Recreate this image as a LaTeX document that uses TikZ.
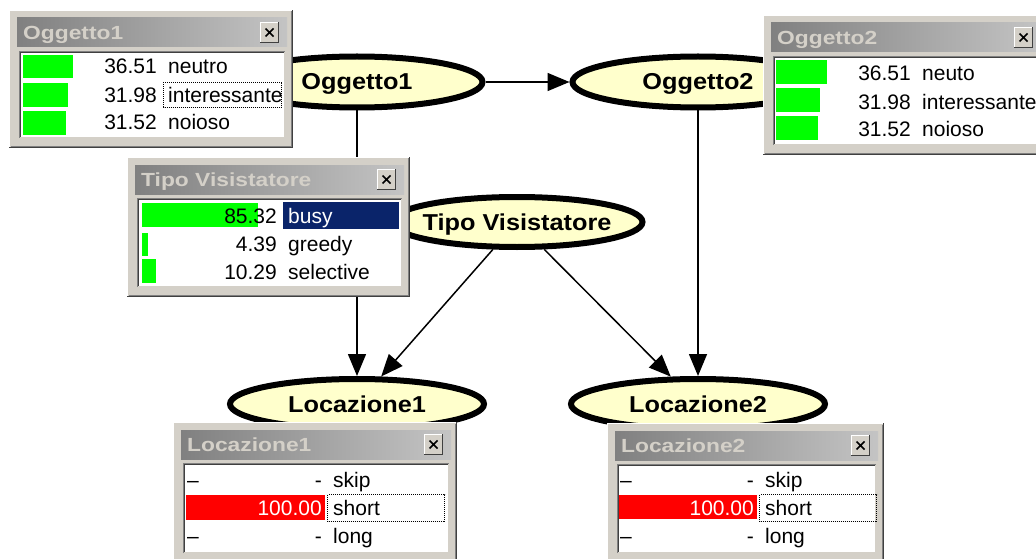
\documentclass[tikz,border=0pt]{standalone}
\usepackage{fontspec}
\setmainfont{Liberation Sans}
\newfontfamily\bnnodefont[FakeStretch=1.1]{Liberation Sans}
\newfontfamily\bntitlefont[FakeStretch=1.2]{Liberation Sans}
\usetikzlibrary{shapes.geometric,arrows.meta}

\definecolor{winface}{HTML}{D4D0C8}
\definecolor{winlight}{HTML}{FFFFFF}
\definecolor{windark}{HTML}{808080}
\definecolor{winshadow}{HTML}{404040}
\definecolor{tleft}{HTML}{808080}
\definecolor{tright}{HTML}{C4C4C4}
\definecolor{titlefg}{HTML}{D4D0C8}
\definecolor{nodefill}{HTML}{FFFFCC}
\definecolor{bargreen}{HTML}{00FF00}
\definecolor{barred}{HTML}{FF0000}
\definecolor{selnavy}{HTML}{0A246A}

\tikzset{
  bnnode/.style={ellipse, draw=black, line width=6pt, fill=nodefill,
    minimum width=251pt, minimum height=51pt, inner sep=0pt,
    text height=16pt, text depth=0pt,
    font=\bnnodefont\bfseries\fontsize{23}{23}\selectfont},
  conn/.style={line width=1.5pt, -{Triangle[length=22pt,width=18pt]}},
  celltext/.style={inner sep=0pt, font=\fontsize{21}{21}\selectfont},
  titletext/.style={inner sep=0pt, text=titlefg, text height=13.5pt, text depth=0pt,
    font=\bntitlefont\bfseries\fontsize{19}{19}\selectfont},
  focusbox/.style={line width=1pt, dash pattern=on 1pt off 1pt},
}

% Monitor window: #1 name, #2 #3 top-left corner, #4 #5 bottom-right corner, #6 title
\newcommand\bnwindow[6]{%
  \fill[winface] (#2,#3) rectangle (#4,#5);
  \draw[line width=1pt, winlight] (#2+0.5,#5-1) -- (#2+0.5,#3+0.5) -- (#4-1,#3+0.5);
  \draw[line width=1pt, winshadow] (#2,#5-0.5) -- (#4-0.5,#5-0.5) -- (#4-0.5,#3);
  \draw[line width=1pt, windark] (#2+1.5,#5-1.5) -- (#4-1.5,#5-1.5) -- (#4-1.5,#3+1.5);
  \shade[left color=tleft, right color=tright] (#2+8,#3+8) rectangle (#4-6,#3+37);
  \node[titletext, anchor=west] (#1t) at (#2+14,#3+22.5) {#6};
  \fill[winface] (#4-33,#3+12) rectangle (#4-14,#3+33);
  \draw[line width=1pt, winlight] (#4-32.5,#3+32.5) -- (#4-32.5,#3+12.5) -- (#4-14.5,#3+12.5);
  \draw[line width=1pt, winshadow] (#4-33,#3+32.5) -- (#4-14.5,#3+32.5) -- (#4-14.5,#3+12);
  \draw[line width=1.6pt] (#4-27.5,#3+18.5) -- (#4-19.5,#3+26.5)
                          (#4-27.5,#3+26.5) -- (#4-19.5,#3+18.5);
  \fill[white] (#2+10,#3+41) rectangle (#4-8,#5-10);
  \draw[line width=1pt, windark] (#2+10.5,#5-10) -- (#2+10.5,#3+41.5) -- (#4-8,#3+41.5);
  \draw[line width=1pt, winshadow] (#2+11.5,#5-11) -- (#2+11.5,#3+42.5) -- (#4-9,#3+42.5);
  \draw[line width=1pt, winface] (#2+11,#5-10.5) -- (#4-8.5,#5-10.5) -- (#4-8.5,#3+42);
}

\begin{document}
\begin{tikzpicture}[x=1pt,y=-1pt]
\useasboundingbox (0,0) rectangle (1036,559);
\clip (0,0) rectangle (1036,559);
\fill[white] (0,0) rectangle (1036,559);

% network nodes
\node[bnnode] (o1) at (357,82) {\makebox[0pt]{Oggetto1}};
\node[bnnode] (o2) at (698,82) {\makebox[0pt]{Oggetto2}};
\node[bnnode, minimum height=50pt] (tv) at (517,222) {\makebox[0pt]{Tipo Visistatore}};
\node[bnnode, minimum height=50pt, minimum width=254pt] (l1) at (357,404) {\makebox[0pt]{Locazione1}};
\node[bnnode, minimum height=50pt, minimum width=254pt] (l2) at (698,404) {\makebox[0pt]{Locazione2}};

% arcs
\draw[conn] (o1) -- (o2);
\draw[conn] (o1) -- (l1);
\draw[conn] (o2) -- (l2);
\draw[conn] (tv) -- (l1);
\draw[conn] (tv) -- (l2);

% Oggetto1 monitor
\bnwindow{w1}{9}{10}{293}{148}{Oggetto1}
\fill[bargreen] (23,55) rectangle (73,78);
\fill[bargreen] (23,83) rectangle (68,107);
\fill[bargreen] (23,111) rectangle (66,135);
\node[celltext, anchor=base east] (w1n1) at (157,74) {36.51};
\node[celltext, anchor=base west] (w1s1) at (168,74) {neutro};
\node[celltext, anchor=base east] (w1n2) at (157,102.5) {31.98};
\node[celltext, anchor=base west] (w1s2) at (168,102.5) {interessante};
\draw[focusbox] (163.5,82.5) rectangle (281.5,107.5);
\node[celltext, anchor=base east] (w1n3) at (157,130) {31.52};
\node[celltext, anchor=base west] (w1s3) at (168,130) {noioso};

% Oggetto2 monitor
\bnwindow{w2}{763}{15}{1047}{155}{Oggetto2}
\fill[bargreen] (776,60) rectangle (827,84);
\fill[bargreen] (776,88) rectangle (820,112);
\fill[bargreen] (776,116) rectangle (818,140);
\node[celltext, anchor=base east] (w2n1) at (911,81) {36.51};
\node[celltext, anchor=base west] (w2s1) at (922,81) {neuto};
\node[celltext, anchor=base east] (w2n2) at (911,109.5) {31.98};
\node[celltext, anchor=base west] (w2s2) at (922,109.5) {interessante};
\node[celltext, anchor=base east] (w2n3) at (911,137) {31.52};
\node[celltext, anchor=base west] (w2s3) at (922,137) {noioso};

% Tipo Visistatore monitor
\bnwindow{w3}{127}{157}{410}{297}{Tipo Visistatore}
\fill[bargreen] (142,203) rectangle (258,227);
\fill[bargreen] (142,233) rectangle (148,256);
\fill[bargreen] (142,259) rectangle (156,283);
\fill[selnavy] (283,202) rectangle (399,229);
\node[celltext, anchor=base east] (w3n1) at (277,223) {85.32};
\node[celltext, anchor=base west, text=white] (w3s1) at (288,223) {busy};
\node[celltext, anchor=base east] (w3n2) at (277,251.5) {4.39};
\node[celltext, anchor=base west] (w3s2) at (288,251.5) {greedy};
\node[celltext, anchor=base east] (w3n3) at (277,279.5) {10.29};
\node[celltext, anchor=base west] (w3s3) at (288,279.5) {selective};

% Locazione1 monitor
\bnwindow{w4}{173}{422}{457}{563}{Locazione1}
\fill[barred] (186,495) rectangle (325,520);
\node[celltext, anchor=base west] (w4d1) at (187,487.5) {–};
\node[celltext, anchor=base east] (w4n1) at (322,487.5) {-};
\node[celltext, anchor=base west] (w4s1) at (333,487.5) {skip};
\node[celltext, anchor=base east, text=white] (w4n2) at (322,515.5) {100.00};
\node[celltext, anchor=base west] (w4s2) at (333,515.5) {short};
\draw[focusbox] (327.5,494.5) rectangle (444.5,521.5);
\node[celltext, anchor=base west] (w4d3) at (187,543) {–};
\node[celltext, anchor=base east] (w4n3) at (322,543) {-};
\node[celltext, anchor=base west] (w4s3) at (333,543) {long};

% Locazione2 monitor
\bnwindow{w5}{607}{423}{884}{563}{Locazione2}
\fill[barred] (619,495) rectangle (757,519);
\node[celltext, anchor=base west] (w5d1) at (620,487.5) {–};
\node[celltext, anchor=base east] (w5n1) at (754,487.5) {-};
\node[celltext, anchor=base west] (w5s1) at (765,487.5) {skip};
\node[celltext, anchor=base east, text=white] (w5n2) at (754,515.5) {100.00};
\node[celltext, anchor=base west] (w5s2) at (765,515.5) {short};
\draw[focusbox] (759.5,494.5) rectangle (876.5,521.5);
\node[celltext, anchor=base west] (w5d3) at (620,543) {–};
\node[celltext, anchor=base east] (w5n3) at (754,543) {-};
\node[celltext, anchor=base west] (w5s3) at (765,543) {long};
\end{tikzpicture}
\end{document}
